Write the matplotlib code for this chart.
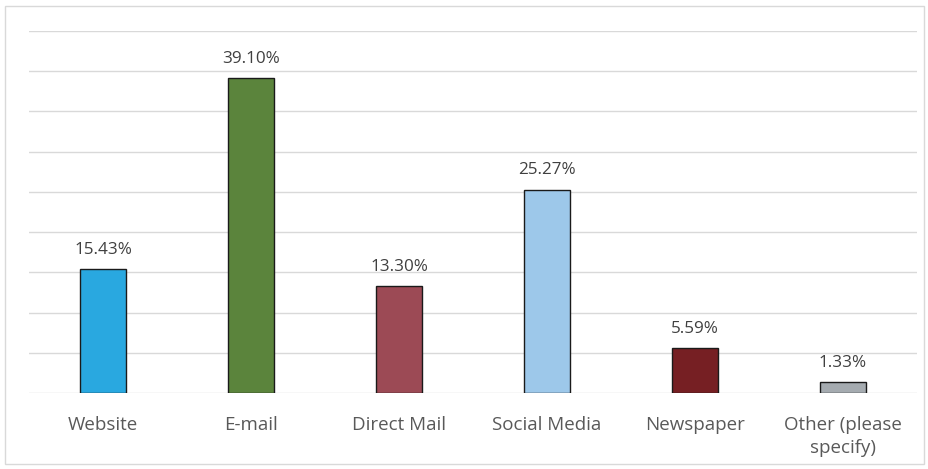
import matplotlib.pyplot as plt
from matplotlib.patches import Rectangle

categories = ["Website", "E-mail", "Direct Mail", "Social Media", "Newspaper", "Other (please\nspecify)"]
shares = [15.43, 39.10, 13.30, 25.27, 5.59, 1.33]
colors = ["#29A8E0", "#5B843C", "#9C4A55", "#9DC8EA", "#761F23", "#A5ABB0"]

plt.rcParams['font.family'] = ['Open Sans', 'DejaVu Sans']

fig = plt.figure(figsize=(9.29, 4.69), dpi=100)
# рамка вокруг всей диаграммы
fig.patches.append(Rectangle((5 / 929, 5 / 469), 919 / 929, 458 / 469, transform=fig.transFigure,
                             fill=False, edgecolor="#D9D9D9", linewidth=1))

ax = fig.add_axes([29 / 929, 1 - 393 / 469, 888 / 929, 362 / 469])
x = range(len(categories))
bars = ax.bar(x, shares, width=0.305, color=colors, edgecolor="#1a1a1a", linewidth=1, zorder=3)

for b, v in zip(bars, shares):
    ax.text(b.get_x() + b.get_width() / 2, v + 1.4, f"{v:.2f}%", ha="center", va="bottom",
            fontsize=12.3, color="#404040")

ax.set_xlim(-0.5, len(categories) - 0.5)
ax.set_ylim(0, 45)
ax.set_yticks(range(0, 46, 5))
ax.yaxis.grid(True, color="#D9D9D9", linewidth=1)
ax.set_axisbelow(True)
ax.tick_params(axis="y", left=False, labelleft=False)
ax.tick_params(axis="x", bottom=False, labelsize=13.5, labelcolor="#595959", pad=13)
ax.set_xticks(list(x))
ax.set_xticklabels(categories, linespacing=1.35)
for s in ax.spines.values():
    s.set_visible(False)

fig.savefig("out.png", dpi=100)
